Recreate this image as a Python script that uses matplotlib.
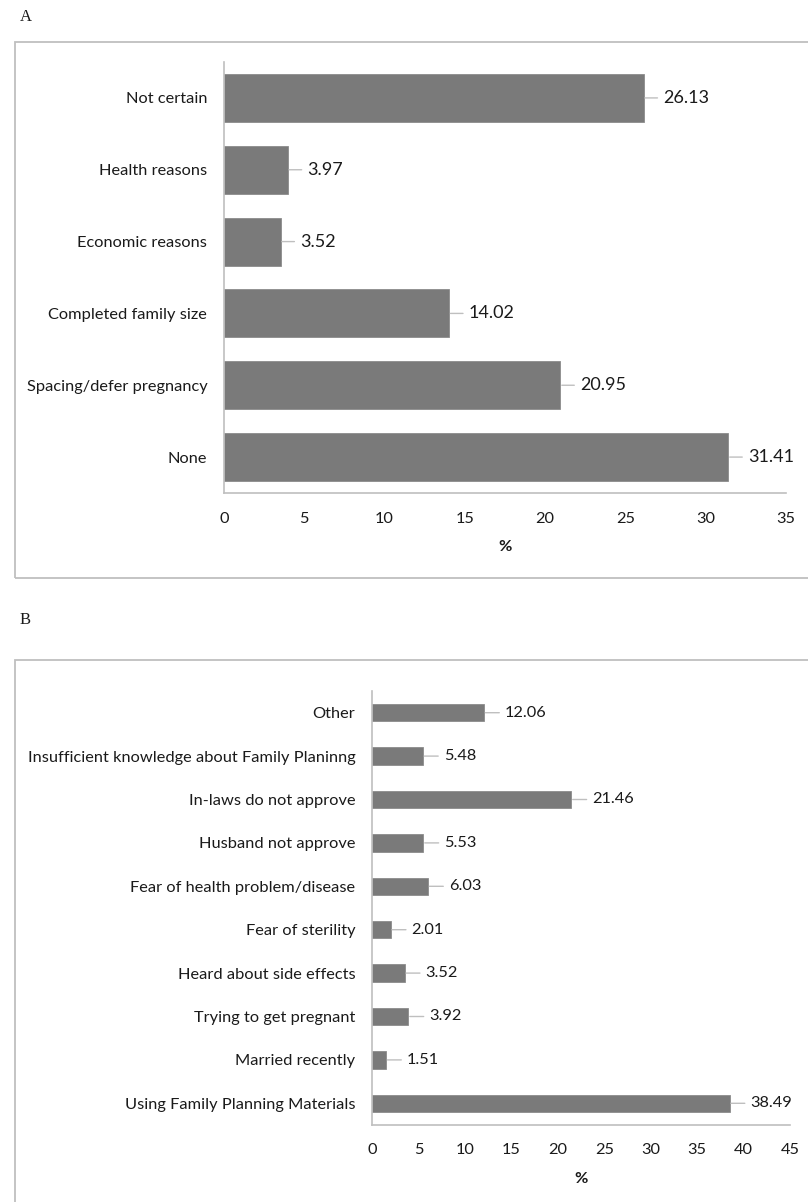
import matplotlib.pyplot as plt
from matplotlib.patches import Rectangle

plt.rcParams['font.family'] = ['Lato', 'DejaVu Sans']

# Panel A
razones_a = ['None', 'Spacing/defer pregnancy', 'Completed family size',
             'Economic reasons', 'Health reasons', 'Not certain']
valores_a = [31.41, 20.95, 14.02, 3.52, 3.97, 26.13]
ticks_a = [0, 5, 10, 15, 20, 25, 30, 35]

# Panel B
razones_b = ['Using Family Planning Materials', 'Married recently',
             'Trying to get pregnant', 'Heard about side effects',
             'Fear of sterility', 'Fear of health problem/disease',
             'Husband not approve', 'In-laws do not approve',
             'Insufficient knowledge about Family Planinng', 'Other']
valores_b = [38.49, 1.51, 3.92, 3.52, 2.01, 6.03, 5.53, 21.46, 5.48, 12.06]
ticks_b = [0, 5, 10, 15, 20, 25, 30, 35, 40, 45]

GRIS_BARRA = '#7a7a7a'
GRIS_LINEA = '#bfbfbf'
TEXTO = '#1a1a1a'


def dibujar_panel(ax, razones, valores, ticks, alto, desplazamiento, tam_valor, pad_x, pad_label):
    pos = range(len(razones))
    ax.barh(pos, valores, height=alto, color=GRIS_BARRA, edgecolor='#8c8c8c', linewidth=0.6)
    ax.set_yticks(list(pos))
    ax.set_yticklabels(razones, fontsize=11.8, color=TEXTO)
    ax.set_ylim(-0.5, len(razones) - 0.5)
    ax.set_xlim(ticks[0], ticks[-1])
    ax.set_xticks(ticks)
    ax.tick_params(axis='x', length=0, pad=pad_x, labelsize=11.8, labelcolor=TEXTO)
    ax.tick_params(axis='y', length=0, pad=12)
    for lado in ['top', 'right']:
        ax.spines[lado].set_visible(False)
    for lado in ['left', 'bottom']:
        ax.spines[lado].set_color(GRIS_LINEA)
        ax.spines[lado].set_linewidth(1.2)
    ax.set_xlabel('%', fontsize=11.8, fontweight='bold', color=TEXTO, labelpad=pad_label)
    for y, v in zip(pos, valores):
        ax.annotate(f'{v:.2f}', xy=(v, y), xytext=(desplazamiento, 0),
                    textcoords='offset points', ha='left', va='center',
                    fontsize=tam_valor, color=TEXTO,
                    arrowprops=dict(arrowstyle='-', color=GRIS_LINEA, lw=1,
                                    shrinkA=2, shrinkB=1))


fig = plt.figure(figsize=(8.08, 12.02), dpi=100)

ax_a = fig.add_axes([224 / 808, 1 - 493 / 1202, (786 - 224) / 808, (493 - 62) / 1202])
dibujar_panel(ax_a, razones_a, valores_a, ticks_a, 0.67, 14, 13, 14, 10)

ax_b = fig.add_axes([372 / 808, 1 - 1125 / 1202, (790 - 372) / 808, (1125 - 691) / 1202])
dibujar_panel(ax_b, razones_b, valores_b, ticks_b, 0.4, 15, 11.8, 13, 11)

# marcos exteriores
fig.add_artist(Rectangle((15 / 808, 1 - 578 / 1202), 1.0, (578 - 42) / 1202,
                         transform=fig.transFigure, fill=False,
                         edgecolor=GRIS_LINEA, linewidth=1.3))
fig.add_artist(Rectangle((15 / 808, -0.01), 1.0, 1 - 660 / 1202 + 0.01,
                         transform=fig.transFigure, fill=False,
                         edgecolor=GRIS_LINEA, linewidth=1.3))

fig.text(20 / 808, 1 - 17 / 1202, 'A', family='Liberation Serif', fontsize=12,
         va='center', ha='left', color=TEXTO)
fig.text(20 / 808, 1 - 620 / 1202, 'B', family='Liberation Serif', fontsize=12,
         va='center', ha='left', color=TEXTO)

fig.savefig('out.png', dpi=100, facecolor='white')
